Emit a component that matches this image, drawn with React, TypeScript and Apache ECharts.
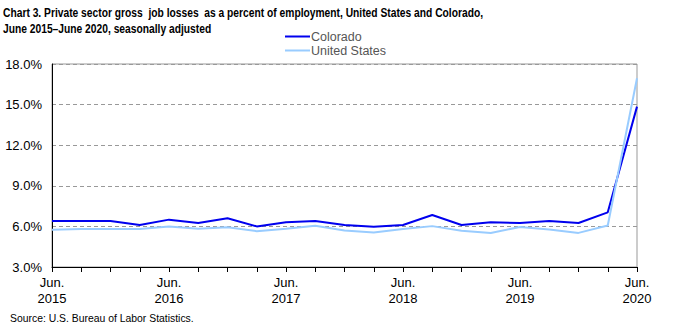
import React, { useEffect, useRef } from "react";
import * as echarts from "echarts";

const quarters = [
  "Jun. 2015", "Sep. 2015", "Dec. 2015", "Mar. 2016",
  "Jun. 2016", "Sep. 2016", "Dec. 2016", "Mar. 2017",
  "Jun. 2017", "Sep. 2017", "Dec. 2017", "Mar. 2018",
  "Jun. 2018", "Sep. 2018", "Dec. 2018", "Mar. 2019",
  "Jun. 2019", "Sep. 2019", "Dec. 2019", "Mar. 2020",
  "Jun. 2020",
];

const colorado = [
  6.4, 6.4, 6.4, 6.1, 6.5, 6.25, 6.6, 6.0, 6.3, 6.4, 6.1,
  5.98, 6.1, 6.84, 6.1, 6.3, 6.25, 6.4, 6.25, 7.04, 14.85,
];

const unitedStates = [
  5.75, 5.8, 5.8, 5.8, 6.0, 5.83, 5.93, 5.65, 5.82, 6.05, 5.7,
  5.55, 5.8, 6.02, 5.68, 5.52, 5.96, 5.77, 5.52, 6.07, 16.95,
];

const titleLines = [
  "Chart 3. Private sector gross  job losses  as a percent of employment, United States and Colorado,",
  "June 2015\u2013June 2020, seasonally adjusted",
];
const sourceText = "Source: U.S. Bureau of Labor Statistics.";

const FONT = "'Liberation Sans', Arial, sans-serif";

export default function App() {
  const ref = useRef<HTMLDivElement>(null);

  useEffect(() => {
    if (!ref.current) return;
    const chart = echarts.init(ref.current, undefined, { renderer: "svg" });
    const titleStyle = {
      font: "bold 13px 'Liberation Sans', Arial, sans-serif",
      fill: "#000000",
      verticalAlign: "middle",
      align: "left",
    };
    chart.setOption({
      animation: false,
      backgroundColor: "#ffffff",
      textStyle: { fontFamily: FONT },
      grid: {
        left: 52,
        right: 36,
        top: 64,
        bottom: 60,
        show: true,
        borderColor: "#999999",
        borderWidth: 1,
      },
      legend: {
        orient: "vertical",
        left: 285,
        top: 30,
        padding: 0,
        itemWidth: 25,
        itemHeight: 2,
        itemGap: 1,
        icon: "rect",
        textStyle: {
          color: "#555555",
          fontSize: 12.5,
          lineHeight: 12,
          fontFamily: FONT,
          padding: [0, 0, 0, -4],
        },
        data: ["Colorado", "United States"],
      },
      graphic: [
        {
          type: "text",
          x: 3,
          y: 12,
          scaleX: 0.79,
          style: { ...titleStyle, text: titleLines[0] },
        },
        {
          type: "text",
          x: 3,
          y: 28,
          scaleX: 0.79,
          style: { ...titleStyle, text: titleLines[1] },
        },
        {
          type: "text",
          x: 10,
          y: 318,
          style: {
            text: sourceText,
            font: "10.4px 'Liberation Sans', Arial, sans-serif",
            fill: "#000000",
            verticalAlign: "middle",
            align: "left",
          },
        },
      ],
      xAxis: {
        type: "category",
        data: quarters,
        boundaryGap: false,
        axisLine: { show: true, lineStyle: { color: "#000000", width: 1 } },
        axisTick: {
          show: true,
          interval: 0,
          length: 5,
          inside: false,
          lineStyle: { color: "#000000" },
        },
        axisLabel: {
          interval: 3,
          margin: 7,
          color: "#000000",
          fontSize: 13,
          lineHeight: 16,
          fontFamily: FONT,
          formatter: (v: string) => v.replace(" ", "\n"),
        },
        splitLine: { show: false },
      },
      yAxis: {
        type: "value",
        min: 3,
        max: 18,
        interval: 3,
        axisLine: { show: true, lineStyle: { color: "#000000", width: 1 } },
        axisTick: { show: false },
        axisLabel: {
          margin: 10,
          color: "#000000",
          fontSize: 13,
          fontFamily: FONT,
          formatter: (v: number) => v.toFixed(1) + "%",
        },
        splitLine: {
          show: true,
          lineStyle: { color: "#999999", type: [4, 3], width: 1 },
        },
      },
      series: [
        {
          name: "Colorado",
          type: "line",
          data: colorado,
          symbol: "none",
          itemStyle: { color: "#0000ee" },
          lineStyle: { color: "#0000ee", width: 2 },
        },
        {
          name: "United States",
          type: "line",
          data: unitedStates,
          symbol: "none",
          itemStyle: { color: "#99ccff" },
          lineStyle: { color: "#99ccff", width: 2 },
        },
      ],
    });
    return () => chart.dispose();
  }, []);

  return (
    <div
      ref={ref}
      style={{ position: "absolute", left: 0, top: 0, width: 673, height: 327 }}
    />
  );
}
